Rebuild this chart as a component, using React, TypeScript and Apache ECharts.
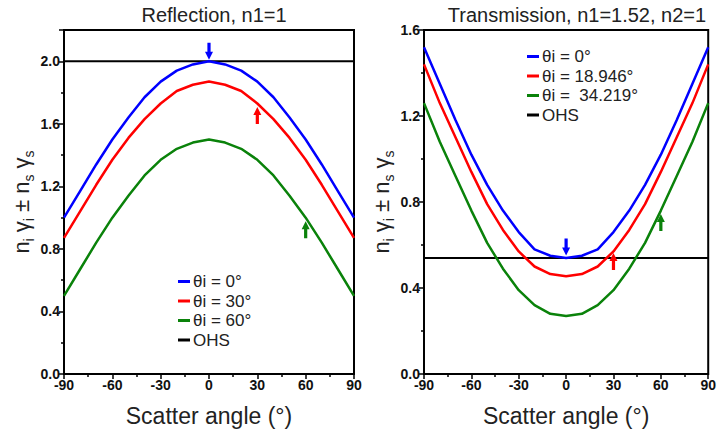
import React, { useEffect, useRef } from "react";
import * as echarts from "echarts";

const angles = [-90, -80, -70, -60, -50, -40, -30, -20, -10, 0, 10, 20, 30, 40, 50, 60, 70, 80, 90];

const reflBlue = [1.0, 1.17, 1.34, 1.5, 1.64, 1.77, 1.87, 1.94, 1.98, 2.0, 1.98, 1.94, 1.87, 1.77, 1.64, 1.5, 1.34, 1.17, 1.0];
const reflRed = [0.87, 1.04, 1.21, 1.37, 1.51, 1.63, 1.73, 1.81, 1.85, 1.87, 1.85, 1.81, 1.73, 1.63, 1.51, 1.37, 1.21, 1.04, 0.87];
const reflGreen = [0.5, 0.67, 0.84, 1.0, 1.14, 1.27, 1.37, 1.44, 1.48, 1.5, 1.48, 1.44, 1.37, 1.27, 1.14, 1.0, 0.84, 0.67, 0.5];
const reflOHS = 2.0;

const transBlue = [1.52, 1.35, 1.18, 1.02, 0.88, 0.76, 0.66, 0.58, 0.55, 0.54, 0.55, 0.58, 0.66, 0.76, 0.88, 1.02, 1.18, 1.35, 1.52];
const transRed = [1.44, 1.26, 1.1, 0.94, 0.79, 0.67, 0.57, 0.5, 0.465, 0.455, 0.465, 0.5, 0.57, 0.67, 0.79, 0.94, 1.1, 1.26, 1.44];
const transGreen = [1.26, 1.08, 0.92, 0.76, 0.61, 0.49, 0.39, 0.32, 0.28, 0.27, 0.28, 0.32, 0.39, 0.49, 0.61, 0.76, 0.92, 1.08, 1.26];
const transOHS = 0.54;

const reflNames = ["θi = 0°", "θi = 30°", "θi = 60°", "OHS"];
const transNames = ["θi = 0°", "θi = 18.946°", "θi =  34.219°", "OHS"];
const titles = ["Reflection, n1=1", "Transmission, n1=1.52, n2=1"];
const xTitle = "Scatter angle (°)";

const BLUE = "#0000ff";
const RED = "#ff0000";
const GREEN = "#0a820a";
const FONT = "Liberation Sans, Arial, sans-serif";

const ARROW_UP = "path://M3,17 L7,17 L7,8 L10,8 L5,0 L0,8 L3,8 Z";
const ARROW_DOWN = "path://M3,0 L7,0 L7,9 L10,9 L5,17 L0,9 L3,9 Z";

function pts(vals: number[]) {
  return angles.map((a, i) => [a, vals[i]]);
}

function arrow(coord: number[], up: boolean, offset: number) {
  return {
    symbol: up ? ARROW_UP : ARROW_DOWN,
    symbolSize: [8, 17],
    symbolOffset: [0, offset],
    label: { show: false },
    data: [{ coord }],
    silent: true,
  };
}

export default function App() {
  const ref = useRef<HTMLDivElement>(null);
  useEffect(() => {
    if (!ref.current) return;
    const chart = echarts.init(ref.current, undefined, { renderer: "svg" });

    const xAxisBase = (gridIndex: number) => ({
      type: "value",
      gridIndex,
      min: -90,
      max: 90,
      interval: 30,
      name: xTitle,
      nameLocation: "middle",
      nameGap: 30,
      nameTextStyle: { fontSize: 23, color: "#222", fontFamily: FONT },
      axisLine: { show: true, onZero: false, lineStyle: { color: "#000", width: 2 } },
      axisTick: { show: true, inside: false, length: 5, lineStyle: { color: "#000", width: 1.5 } },
      minorTick: { show: true, splitNumber: 2, length: 3, lineStyle: { color: "#000", width: 1.5 } },
      splitLine: { show: false },
      axisLabel: { fontSize: 14, fontWeight: "bold", color: "#111", fontFamily: FONT, margin: 4 },
    });

    const yName = "{n|n}{s|i}{n| γ}{s|i}{n| ± n}{s|s}{n| γ}{s|s}";
    const yAxisBase = (gridIndex: number, max: number) => ({
      type: "value",
      gridIndex,
      min: 0,
      max,
      interval: 0.4,
      name: yName,
      nameLocation: "middle",
      nameRotate: 90,
      nameGap: 28,
      nameTextStyle: {
        color: "#222",
        fontFamily: FONT,
        rich: {
          n: { fontSize: 22, lineHeight: 30, fontFamily: FONT, color: "#222", verticalAlign: "middle" },
          s: { fontSize: 14, lineHeight: 30, fontFamily: FONT, color: "#222", verticalAlign: "bottom" },
        },
      },
      axisLine: { show: true, onZero: false, lineStyle: { color: "#000", width: 2 } },
      axisTick: { show: true, inside: false, length: 5, lineStyle: { color: "#000", width: 1.5 } },
      minorTick: { show: true, splitNumber: 2, length: 3, lineStyle: { color: "#000", width: 1.5 } },
      splitLine: { show: false },
      axisLabel: {
        fontSize: 14,
        fontWeight: "bold",
        color: "#111",
        fontFamily: FONT,
        margin: 4,
        showMaxLabel: max === 1.6,
        formatter: (v: number) => v.toFixed(1),
      },
    });

    const line = (name: string, data: number[][], color: string, idx: number, width = 2.5, markPoint?: any) => ({
      type: "line",
      name,
      xAxisIndex: idx,
      yAxisIndex: idx,
      data,
      showSymbol: false,
      symbol: "none",
      smooth: false,
      lineStyle: { color, width },
      itemStyle: { color },
      markPoint,
    });

    const legend = (names: string[], left: number, top: number) => ({
      data: names,
      orient: "vertical",
      left,
      top,
      icon: "rect",
      itemWidth: 12,
      itemHeight: 3,
      itemGap: 2.5,
      selectedMode: false,
      textStyle: { fontSize: 17, color: "#222", fontFamily: FONT, padding: [0, 0, 0, -2], lineHeight: 17 },
    });

    chart.setOption({
      animation: false,
      backgroundColor: "#fff",
      title: [
        { text: titles[0], left: 209, top: 0, textAlign: "center", textStyle: { fontSize: 20, fontWeight: "normal", color: "#222", fontFamily: FONT } },
        { text: titles[1], left: 572, top: 0, textAlign: "center", textStyle: { fontSize: 20, fontWeight: "normal", color: "#222", fontFamily: FONT } },
      ],
      legend: [legend(reflNames, 173, 268), legend(transNames, 522, 43)],
      grid: [
        { left: 64, top: 30, width: 290, height: 344, show: true, borderColor: "#000", borderWidth: 2, backgroundColor: "transparent" },
        { left: 424, top: 30, width: 291, height: 344, show: true, borderColor: "#000", borderWidth: 2, backgroundColor: "transparent" },
      ],
      xAxis: [xAxisBase(0), xAxisBase(1)],
      yAxis: [yAxisBase(0, 2.2), yAxisBase(1, 1.6)],
      series: [
        line(reflNames[3], [[-90, reflOHS], [90, reflOHS]], "#000", 0, 2),
        line(reflNames[0], pts(reflBlue), BLUE, 0, 2.5, arrow([0, reflOHS], false, -10)),
        line(reflNames[1], pts(reflRed), RED, 0, 2.5, arrow([30, reflRed[12]], true, 12)),
        line(reflNames[2], pts(reflGreen), GREEN, 0, 2.5, arrow([60, reflGreen[15]], true, 12)),
        line(transNames[3], [[-90, transOHS], [90, transOHS]], "#000", 1, 2),
        line(transNames[0], pts(transBlue), BLUE, 1, 2.5, arrow([0, transBlue[9]], false, -11)),
        line(transNames[1], pts(transRed), RED, 1, 2.5, arrow([30, transRed[12]], true, 10)),
        line(transNames[2], pts(transGreen), GREEN, 1, 2.5, arrow([60, transGreen[15]], true, 12)),
      ],
    });
    return () => chart.dispose();
  }, []);
  return (
    <div
      ref={ref}
      style={{ position: "fixed", left: 0, top: 0, width: 719, height: 438, background: "#fff" }}
    />
  );
}
